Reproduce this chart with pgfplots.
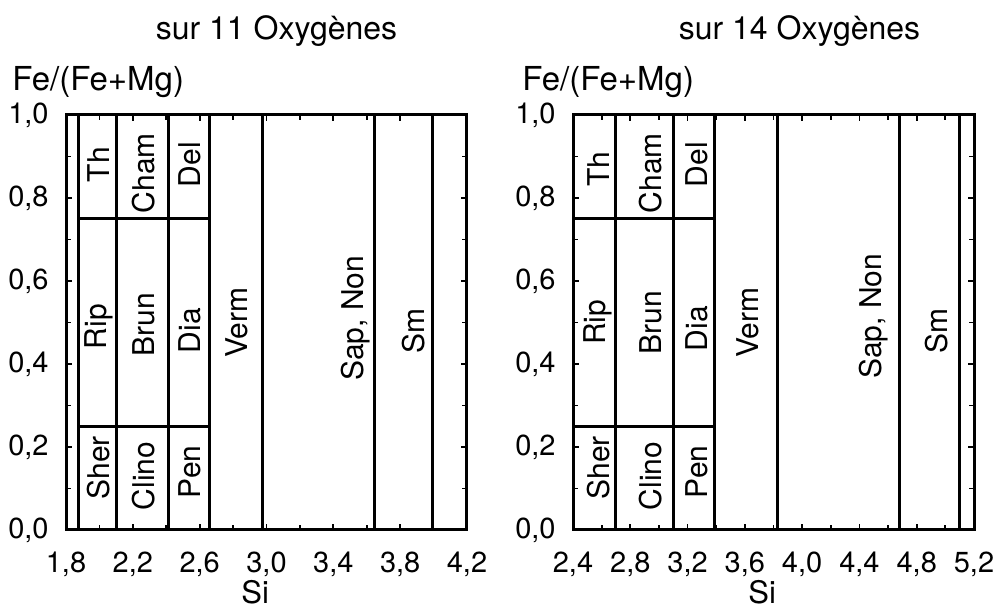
\documentclass[border=0pt]{standalone}
\usepackage{fontspec}
\setmainfont{TeX Gyre Heros}
\usepackage{pgfplots}
\pgfplotsset{compat=1.18}

\pgfplotsset{
  clay/.style={
    scale only axis, width=200.5pt, height=207.5pt,
    ymin=0, ymax=1, ytick={0,0.2,0.4,0.6,0.8,1},
    minor tick num=1,
    tick align=inside,
    major tick length=3pt, minor tick length=2.5pt,
    every tick/.style={black, line width=0.9pt},
    axis line style={line width=1.5pt},
    /pgf/number format/.cd, use comma, fixed, fixed zerofill, precision=1, assume math mode=true,
    /pgfplots/.cd,
    tick label style={font=\fontsize{14.5}{16}\selectfont, inner sep=0pt},
    xticklabel style={anchor=north, yshift=-11pt},
    yticklabel style={anchor=east, xshift=-8.5pt},
    clip=false,
    xlabel={Si},
    xlabel style={font=\fontsize{15.5}{17}\selectfont, inner sep=0pt, at={(axis description cs:0.472,0)}, anchor=base, yshift=-37pt},
  },
  seg/.style={black, line width=1.5pt, no marks},
}
\tikzset{lab/.style={rotate=90, font=\fontsize{15}{16}\selectfont, inner sep=0pt}}

\begin{document}
\begin{tikzpicture}
\path[use as bounding box] (0,0) rectangle (501pt,305pt);

% ---------------- left panel: sur 11 Oxygenes
\begin{axis}[clay, at={(33pt,40pt)}, anchor=south west,
  xmin=1.8, xmax=4.2, xtick={1.8,2.2,2.6,3.0,3.4,3.8,4.2}]
\addplot[seg] coordinates {(1.872,0) (1.872,1)};
\addplot[seg] coordinates {(2.105,0) (2.105,1)};
\addplot[seg] coordinates {(2.416,0) (2.416,1)};
\addplot[seg] coordinates {(2.656,0) (2.656,1)};
\addplot[seg] coordinates {(2.979,0) (2.979,1)};
\addplot[seg] coordinates {(3.649,0) (3.649,1)};
\addplot[seg] coordinates {(3.996,0) (3.996,1)};
\addplot[seg] coordinates {(1.872,0.25) (2.656,0.25)};
\addplot[seg] coordinates {(1.872,0.75) (2.656,0.75)};
\node[lab] at (axis cs:1.994,0.88) {Th};
\node[lab] at (axis cs:2.267,0.86) {Cham};
\node[lab] at (axis cs:2.542,0.88) {Del};
\node[lab] at (axis cs:1.994,0.49) {Rip};
\node[lab] at (axis cs:2.267,0.495) {Brun};
\node[lab] at (axis cs:2.542,0.48) {Dia};
\node[lab] at (axis cs:2.823,0.50) {Verm};
\node[lab] at (axis cs:3.535,0.51) {Sap, Non};
\node[lab] at (axis cs:3.883,0.48) {Sm};
\node[lab] at (axis cs:1.994,0.15) {Sher};
\node[lab] at (axis cs:2.267,0.13) {Clino};
\node[lab] at (axis cs:2.542,0.14) {Pen};
\node[anchor=base west, inner sep=0pt, font=\fontsize{16.5}{18}\selectfont, xshift=-27pt, yshift=12pt] at (rel axis cs:0,1) {Fe/(Fe+Mg)};
\node[anchor=base, inner sep=0pt, font=\fontsize{16}{18}\selectfont, xshift=5pt, yshift=37.5pt] at (rel axis cs:0.5,1) {sur 11 Oxygènes};
\end{axis}

% ---------------- right panel: sur 14 Oxygenes
\begin{axis}[clay, at={(286.5pt,40pt)}, anchor=south west,
  xmin=2.4, xmax=5.2, xtick={2.4,2.8,3.2,3.6,4.0,4.4,4.8,5.2}]
\addplot[seg] coordinates {(2.700,0) (2.700,1)};
\addplot[seg] coordinates {(3.100,0) (3.100,1)};
\addplot[seg] coordinates {(3.385,0) (3.385,1)};
\addplot[seg] coordinates {(3.825,0) (3.825,1)};
\addplot[seg] coordinates {(4.677,0) (4.677,1)};
\addplot[seg] coordinates {(5.096,0) (5.096,1)};
\addplot[seg] coordinates {(2.4,0.25) (3.385,0.25)};
\addplot[seg] coordinates {(2.4,0.75) (3.385,0.75)};
\node[lab] at (axis cs:2.575,0.87) {Th};
\node[lab] at (axis cs:2.940,0.86) {Cham};
\node[lab] at (axis cs:3.266,0.88) {Del};
\node[lab] at (axis cs:2.575,0.50) {Rip};
\node[lab] at (axis cs:2.940,0.50) {Brun};
\node[lab] at (axis cs:3.266,0.485) {Dia};
\node[lab] at (axis cs:3.622,0.50) {Verm};
\node[lab] at (axis cs:4.502,0.515) {Sap, Non};
\node[lab] at (axis cs:4.942,0.48) {Sm};
\node[lab] at (axis cs:2.575,0.15) {Sher};
\node[lab] at (axis cs:2.940,0.13) {Clino};
\node[lab] at (axis cs:3.266,0.14) {Pen};
\node[anchor=base west, inner sep=0pt, font=\fontsize{16.5}{18}\selectfont, xshift=-25.5pt, yshift=12pt] at (rel axis cs:0,1) {Fe/(Fe+Mg)};
\node[anchor=base, inner sep=0pt, font=\fontsize{16}{18}\selectfont, xshift=13pt, yshift=37.5pt] at (rel axis cs:0.5,1) {sur 14 Oxygènes};
\end{axis}
\end{tikzpicture}
\end{document}
